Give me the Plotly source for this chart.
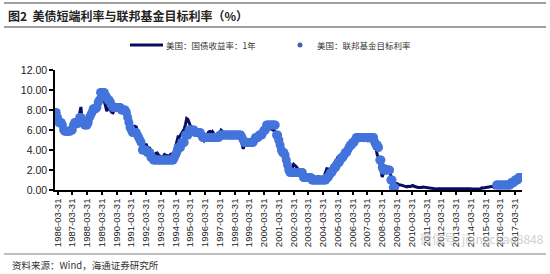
import pandas as pd
import plotly.graph_objects as go

# Monthly data, Jan 1986 - Aug 2017
yield_1y = [
    # 1986
    7.73, 7.61, 7.03, 6.44, 6.65, 6.73, 6.27, 5.93, 5.77, 5.72, 5.80, 5.87,
    # 1987
    5.78, 5.96, 6.03, 6.50, 7.00, 6.80, 6.68, 7.03, 7.67, 8.30, 6.96, 7.17,
    # 1988
    6.99, 6.64, 6.71, 7.01, 7.40, 7.49, 7.75, 8.17, 8.09, 8.11, 8.48, 8.99,
    # 1989
    9.05, 9.25, 9.57, 9.36, 8.98, 8.44, 7.89, 8.18, 8.22, 7.99, 7.77, 7.72,
    # 1990
    7.92, 8.11, 8.35, 8.40, 8.32, 8.10, 7.94, 7.78, 7.76, 7.55, 7.31, 7.05,
    # 1991
    6.64, 6.27, 6.40, 6.24, 6.13, 6.36, 6.31, 5.78, 5.57, 5.33, 4.89, 4.38,
    # 1992
    4.15, 4.29, 4.63, 4.30, 4.19, 4.17, 3.60, 3.47, 3.18, 3.30, 3.68, 3.71,
    # 1993
    3.50, 3.39, 3.33, 3.24, 3.36, 3.54, 3.47, 3.44, 3.36, 3.39, 3.58, 3.61,
    # 1994
    3.54, 3.87, 4.32, 4.82, 5.31, 5.27, 5.48, 5.56, 5.76, 6.11, 6.54, 7.14,
    # 1995
    7.05, 6.70, 6.43, 6.27, 6.00, 5.64, 5.59, 5.75, 5.62, 5.59, 5.43, 5.31,
    # 1996
    5.09, 4.94, 5.34, 5.54, 5.64, 5.81, 5.85, 5.67, 5.83, 5.55, 5.42, 5.47,
    # 1997
    5.61, 5.53, 5.80, 5.99, 5.87, 5.69, 5.54, 5.56, 5.52, 5.46, 5.46, 5.53,
    # 1998
    5.24, 5.31, 5.39, 5.38, 5.44, 5.41, 5.36, 5.21, 4.71, 4.12, 4.53, 4.52,
    # 1999
    4.51, 4.70, 4.78, 4.69, 4.85, 5.10, 5.03, 5.20, 5.25, 5.43, 5.55, 5.84,
    # 2000
    6.12, 6.22, 6.22, 6.15, 6.33, 6.17, 6.08, 6.18, 6.13, 6.01, 6.09, 5.60,
    # 2001
    4.81, 4.68, 4.30, 3.98, 3.78, 3.58, 3.62, 3.47, 2.82, 2.33, 2.18, 2.22,
    # 2002
    2.16, 2.23, 2.57, 2.48, 2.35, 2.20, 1.96, 1.76, 1.72, 1.65, 1.49, 1.45,
    # 2003
    1.36, 1.30, 1.24, 1.27, 1.18, 1.01, 1.12, 1.31, 1.24, 1.25, 1.34, 1.31,
    # 2004
    1.24, 1.24, 1.19, 1.43, 1.78, 2.12, 2.10, 2.02, 2.12, 2.23, 2.50, 2.67,
    # 2005
    2.86, 3.03, 3.30, 3.32, 3.33, 3.36, 3.64, 3.87, 3.85, 4.18, 4.33, 4.35,
    # 2006
    4.45, 4.68, 4.77, 4.90, 5.00, 5.16, 5.22, 5.08, 4.97, 5.01, 5.01, 4.94,
    # 2007
    5.06, 5.05, 4.92, 4.93, 4.91, 4.96, 4.96, 4.47, 4.14, 4.10, 3.50, 3.26,
    # 2008
    2.71, 2.05, 1.30, 1.74, 2.06, 2.42, 2.28, 2.18, 1.91, 1.42, 1.07, 0.49,
    # 2009
    0.44, 0.62, 0.64, 0.55, 0.50, 0.51, 0.48, 0.46, 0.40, 0.37, 0.31, 0.37,
    # 2010
    0.35, 0.35, 0.40, 0.45, 0.37, 0.32, 0.29, 0.26, 0.26, 0.23, 0.25, 0.29,
    # 2011
    0.27, 0.29, 0.26, 0.25, 0.19, 0.18, 0.19, 0.11, 0.10, 0.11, 0.11, 0.12,
    # 2012
    0.12, 0.16, 0.19, 0.18, 0.19, 0.19, 0.19, 0.18, 0.18, 0.18, 0.18, 0.16,
    # 2013
    0.15, 0.16, 0.15, 0.12, 0.12, 0.14, 0.12, 0.13, 0.12, 0.12, 0.12, 0.13,
    # 2014
    0.12, 0.12, 0.13, 0.11, 0.10, 0.10, 0.11, 0.11, 0.11, 0.10, 0.13, 0.21,
    # 2015
    0.20, 0.22, 0.25, 0.23, 0.24, 0.28, 0.30, 0.38, 0.37, 0.26, 0.48, 0.65,
    # 2016
    0.54, 0.53, 0.66, 0.56, 0.59, 0.55, 0.51, 0.57, 0.59, 0.66, 0.74, 0.87,
    # 2017
    0.83, 0.82, 1.01, 1.04, 1.12, 1.20, 1.22, 1.23,
]

N = None
fed_target = [
    # 1986
    7.75, 7.75, 7.25, 6.75, 6.75, 6.75, 6.50, 6.00, 5.88, 5.88, 5.88, 5.88,
    # 1987
    5.88, 6.00, 6.00, 6.50, 6.75, 6.75, 6.63, 6.75, 7.25, 7.25, 6.75, 6.75,
    # 1988
    6.50, 6.50, 6.50, 6.75, 7.25, 7.50, 7.75, 8.13, 8.13, 8.13, 8.25, 8.75,
    # 1989
    9.00, 9.75, 9.75, 9.75, 9.75, 9.50, 9.25, 9.00, 9.00, 8.75, 8.50, 8.25,
    # 1990
    8.25, 8.25, 8.25, 8.25, 8.25, 8.25, 8.00, 8.00, 8.00, 8.00, 7.75, 7.25,
    # 1991
    6.75, 6.25, 6.00, 5.75, 5.75, 5.75, 5.75, 5.50, 5.25, 5.00, 4.75, 4.00,
    # 1992
    4.00, 4.00, 4.00, 3.75, 3.75, 3.75, 3.25, 3.25, 3.00, 3.00, 3.00, 3.00,
    # 1993
    3.00, 3.00, 3.00, 3.00, 3.00, 3.00, 3.00, 3.00, 3.00, 3.00, 3.00, 3.00,
    # 1994
    3.00, 3.25, 3.50, 3.75, 4.25, 4.25, 4.25, 4.75, 4.75, 4.75, 5.50, 5.50,
    # 1995
    5.50, 6.00, 6.00, 6.00, 6.00, 6.00, 5.75, 5.75, 5.75, 5.75, 5.75, 5.50,
    # 1996
    5.25, 5.25, 5.25, 5.25, 5.25, 5.25, 5.25, 5.25, 5.25, 5.25, 5.25, 5.25,
    # 1997
    5.25, 5.25, 5.50, 5.50, 5.50, 5.50, 5.50, 5.50, 5.50, 5.50, 5.50, 5.50,
    # 1998
    5.50, 5.50, 5.50, 5.50, 5.50, 5.50, 5.50, 5.50, 5.25, 5.00, 4.75, 4.75,
    # 1999
    4.75, 4.75, 4.75, 4.75, 4.75, 4.75, 5.00, 5.25, 5.25, 5.25, 5.50, 5.50,
    # 2000
    5.50, 5.75, 6.00, 6.00, 6.50, 6.50, 6.50, 6.50, 6.50, 6.50, 6.50, 6.50,
    # 2001
    5.50, 5.50, 5.00, 4.50, 4.00, 3.75, 3.75, 3.50, 3.00, 2.50, 2.00, 1.75,
    # 2002
    1.75, 1.75, 1.75, 1.75, 1.75, 1.75, 1.75, 1.75, 1.75, 1.75, 1.25, 1.25,
    # 2003
    1.25, 1.25, 1.25, 1.25, 1.25, 1.00, 1.00, 1.00, 1.00, 1.00, 1.00, 1.00,
    # 2004
    1.00, 1.00, 1.00, 1.00, 1.00, 1.25, 1.25, 1.50, 1.75, 1.75, 2.00, 2.25,
    # 2005
    2.25, 2.50, 2.75, 2.75, 3.00, 3.25, 3.25, 3.50, 3.75, 3.75, 4.00, 4.25,
    # 2006
    4.50, 4.50, 4.75, 4.75, 5.00, 5.25, 5.25, 5.25, 5.25, 5.25, 5.25, 5.25,
    # 2007
    5.25, 5.25, 5.25, 5.25, 5.25, 5.25, 5.25, 5.25, 4.75, 4.50, 4.50, 4.25,
    # 2008
    3.00, 3.00, 2.25, 2.00, 2.00, 2.00, 2.00, 2.00, 2.00, 1.00, 1.00, 0.25,
    # 2009
    0.25, N, N, N, N, N, N, N, N, N, N, N,
    # 2010-2014
    N, N, N, N, N, N, N, N, N, N, N, N,
    N, N, N, N, N, N, N, N, N, N, N, N,
    N, N, N, N, N, N, N, N, N, N, N, N,
    N, N, N, N, N, N, N, N, N, N, N, N,
    N, N, N, N, N, N, N, N, N, N, N, N,
    # 2015
    N, N, N, N, N, N, N, N, N, N, N, 0.50,
    # 2016
    0.50, 0.50, 0.50, 0.50, 0.50, 0.50, 0.50, 0.50, 0.50, 0.50, 0.50, 0.75,
    # 2017
    0.75, 0.75, 1.00, 1.00, 1.00, 1.25, 1.25, 1.25,
]

dates = pd.date_range("1986-01-31", periods=len(yield_1y), freq="ME")

tick_vals = [f"{y}-03-31" for y in range(1986, 2018)]
tick_text = tick_vals
y_ticks = [0, 2, 4, 6, 8, 10, 12]
y_tick_text = [f"{v:.2f}" for v in y_ticks]

title_text = "图2  美债短端利率与联邦基金目标利率（%）"
legend_line = "美国：国债收益率：1年"
legend_dot = "美国：联邦基金目标利率"
source_text = "资料来源：Wind，海通证券研究所"
watermark = "微信号: jiangchao8848"

LINE_C = "#0B0B62"
DOT_C = "#4374DC"

fig = go.Figure()
fig.add_trace(go.Scatter(x=dates, y=yield_1y, mode="lines",
                         line=dict(color=LINE_C, width=3), showlegend=False))
fig.add_trace(go.Scatter(x=dates, y=fed_target, mode="markers",
                         marker=dict(color=DOT_C, size=9, line=dict(width=0)),
                         showlegend=False))

# pixel helpers: plot area x 55..522, y 70..190
L, R, T, B = 55, 522, 70, 190
def px(x):
    return (x - L) / (R - L)
def py(y):
    return (B - y) / (B - T)

shapes = []
for yy in (3, 27):
    shapes.append(dict(type="line", xref="paper", yref="paper",
                       x0=px(4), x1=px(546), y0=py(yy), y1=py(yy),
                       line=dict(color="#7f7f7f", width=1.5)))
shapes.append(dict(type="line", xref="paper", yref="paper",
                   x0=px(4), x1=px(546), y0=py(254), y1=py(254),
                   line=dict(color="#7f7f7f", width=1.2)))
# legend sample line
shapes.append(dict(type="line", xref="paper", yref="paper",
                   x0=px(130), x1=px(163), y0=py(45), y1=py(45),
                   line=dict(color=LINE_C, width=3)))
# legend dot
shapes.append(dict(type="circle", xref="paper", yref="paper",
                   x0=px(297.5), x1=px(302.5), y0=py(47.5), y1=py(42.5),
                   fillcolor="#3F62B8", line=dict(width=0)))

annotations = [
    dict(text="<b>" + title_text + "</b>", xref="paper", yref="paper",
         x=px(6), y=py(15), xanchor="left", yanchor="middle", showarrow=False,
         font=dict(family="Noto Sans CJK SC", size=12, color="#222")),
    dict(text=legend_line, xref="paper", yref="paper",
         x=px(164), y=py(45), xanchor="left", yanchor="middle", showarrow=False,
         font=dict(family="Noto Sans CJK SC", size=8.5, color="#333")),
    dict(text=legend_dot, xref="paper", yref="paper",
         x=px(315), y=py(45), xanchor="left", yanchor="middle", showarrow=False,
         font=dict(family="Noto Sans CJK SC", size=8.5, color="#333")),
    dict(text=source_text, xref="paper", yref="paper",
         x=px(10), y=py(265), xanchor="left", yanchor="middle", showarrow=False,
         font=dict(family="Noto Sans CJK SC", size=9.5, color="#333")),
    dict(text=watermark, xref="paper", yref="paper",
         x=px(546), y=py(238), xanchor="right", yanchor="middle", showarrow=False,
         font=dict(family="Noto Sans CJK SC", size=12, color="rgba(190,190,190,0.75)")),
]

fig.update_layout(
    width=550, height=274,
    margin=dict(l=L, r=550 - R, t=T, b=274 - B, pad=0),
    paper_bgcolor="white", plot_bgcolor="white",
    shapes=shapes, annotations=annotations, showlegend=False,
    xaxis=dict(type="date", range=["1986-01-28", "2017-09-20"],
               tickmode="array", tickvals=tick_vals, ticktext=tick_text,
               tickangle=-90, ticks="outside", ticklen=3, tickwidth=1.5,
               tickcolor="black", showline=True, linecolor="black", linewidth=1.5,
               showgrid=False, zeroline=False,
               tickfont=dict(family="Liberation Sans", size=9.5, color="#222")),
    yaxis=dict(range=[0, 12], tickmode="array", tickvals=y_ticks,
               ticktext=y_tick_text, ticks="outside", ticklen=4, tickwidth=1.5,
               tickcolor="black", showline=True, linecolor="black", linewidth=1.5,
               showgrid=False, zeroline=False,
               tickfont=dict(family="Liberation Sans", size=10.5, color="#222")),
)

fig.write_html("out.html")
